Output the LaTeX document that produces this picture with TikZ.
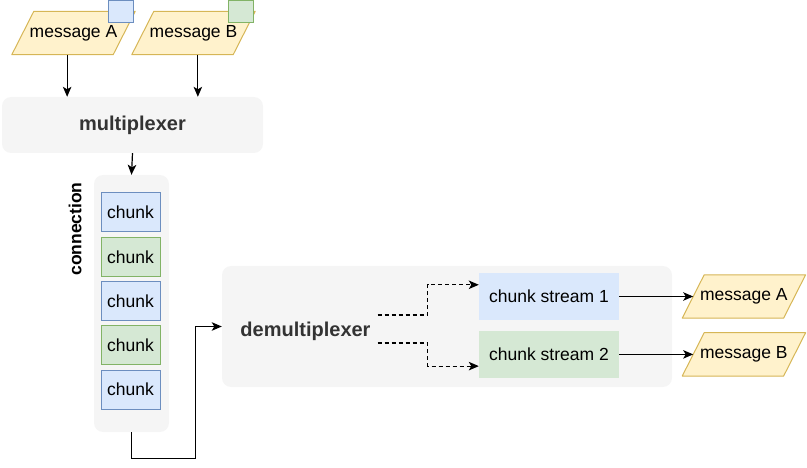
\documentclass[tikz,border=0pt]{standalone}
\usepackage{fontspec}
\setmainfont{Liberation Sans}
\usetikzlibrary{shapes, positioning, calc, arrows.meta, backgrounds}

\definecolor{blfill}{HTML}{DAE8FC}
\definecolor{blline}{HTML}{6C8EBF}
\definecolor{grfill}{HTML}{D5E8D4}
\definecolor{grline}{HTML}{82B366}
\definecolor{ylfill}{HTML}{FFF2CC}
\definecolor{ylline}{HTML}{D6B656}
\definecolor{panelgray}{HTML}{F5F5F5}
\definecolor{lbltext}{HTML}{333333}

\begin{document}
\begin{tikzpicture}[x=1pt, y=1pt,
    font=\fontsize{17.5}{21}\selectfont]
  \newcommand\chunkgap{4.25pt}
  \newcommand\streamgap{11pt}
  \newcommand\msgslant{11pt}
  \newcommand\boldlbl{\fontsize{20}{24}\selectfont\bfseries}
  \newcommand\msgframe[1]{\filldraw[msgline] ([xshift=-\msgslant]#1.south west) -- ([xshift=-\msgslant]#1.south east)
    -- ([xshift=\msgslant]#1.north east) -- ([xshift=\msgslant]#1.north west) -- cycle;}

  \tikzset{ptr/.style={line width=1.2pt, ->, >={Stealth[length=10pt, width=8.5pt, inset=2.5pt]}}}
  \tikzset{dptr/.style={ptr, dash pattern=on 4pt off 3pt}}
  \tikzset{panel/.style={fill=panelgray, rounded corners=9pt, inner sep=0pt}}
  \tikzset{msg/.style={minimum width=101pt, minimum height=43pt, inner sep=0pt}}
  \tikzset{msgline/.style={draw=ylline, fill=ylfill, line width=1pt, line join=round}}
  \tikzset{bluebox/.style={draw=blline, fill=blfill}}
  \tikzset{greenbox/.style={draw=grline, fill=grfill}}
  \tikzset{tag/.style={line width=1pt, minimum width=25pt, minimum height=22pt, inner sep=0pt}}
  \tikzset{chunk/.style={line width=1pt, minimum width=59pt, minimum height=39pt, inner sep=0pt}}
  \tikzset{stream/.style={minimum width=140pt, minimum height=46.5pt, inner sep=0pt}}

  \useasboundingbox (0,0) rectangle (807,-468);

  % messages in
  \node[msg] (ma) at (73.5,-33) {message A};
  \node[msg] (mb) at (193.5,-33) {message B};
  \node[tag, bluebox] (ta) at (120.5,-12) {};
  \node[tag, greenbox] (tb) at (240.5,-12) {};

  % multiplexer
  \node[panel, minimum width=261pt, minimum height=56pt, text=lbltext, font=\boldlbl] (mux) at (132.5,-125) {multiplexer};
  \coordinate (mux-in1) at ($(mux.north west)!0.25!(mux.north east)$);
  \coordinate (mux-in2) at ($(mux.north west)!0.75!(mux.north east)$);
  \draw[ptr] (mux-in1 |- ma.south) -- (mux-in1);
  \draw[ptr] (mux-in2 |- mb.south) -- (mux-in2);

  % connection
  \node[panel, minimum width=75pt, minimum height=257pt] (conn) at (131.5,-303.5) {};
  \node[rotate=90, font=\fontsize{17.5}{21}\selectfont\bfseries] (conn-lbl) at (75,-229) {connection};
  \node[chunk, bluebox] (chunk-1) at (130.5,-212.5) {chunk};
  \foreach \kind/\id [count=\previd from 1] in {greenbox/2, bluebox/3, greenbox/4, bluebox/5}{
    \node[chunk, \kind, below=\chunkgap of chunk-\previd] (chunk-\id) {chunk};
  }
  \draw[ptr] (mux.south) -- (conn.north);

  % demultiplexer
  \node[panel, minimum width=450pt, minimum height=121pt] (demux) at (447,-326.5) {};
  \node[inner sep=0pt, text=lbltext, font=\boldlbl] (dm-lbl) at (305.5,-331.5) {demultiplexer};
  \node[stream, fill=blfill] (cs1) at (549,-296.5) {chunk stream 1};
  \node[stream, fill=grfill, below=\streamgap of cs1] (cs2) {chunk stream 2};
  \draw[ptr] (conn.south) -- ++(0,-26) -| ($(demux.west)+(-26,0)$) -- (demux.west);

  \coordinate (dm-out1) at ([xshift=7pt, yshift=16.5pt]dm-lbl.east);
  \coordinate (dm-out2) at ([xshift=7pt, yshift=-11.5pt]dm-lbl.east);
  \draw[dptr] (dm-out1) -- ++(50,0) |- ($(cs1.north west)!0.25!(cs1.south west)$);
  \draw[dptr] (dm-out2) -- ++(50,0) |- ($(cs2.north west)!0.75!(cs2.south west)$);

  % messages out
  \node[msg, right=74pt of cs1] (oa) {message A};
  \node[msg, right=74pt of cs2] (ob) {message B};
  \draw[ptr] (cs1) -- (oa);
  \draw[ptr] (cs2) -- (ob);

  % parallelogram outlines behind the message texts
  \begin{scope}[on background layer]
    \foreach \m in {ma, mb, oa, ob}{
      \msgframe{\m}
    }
  \end{scope}
\end{tikzpicture}
\end{document}
